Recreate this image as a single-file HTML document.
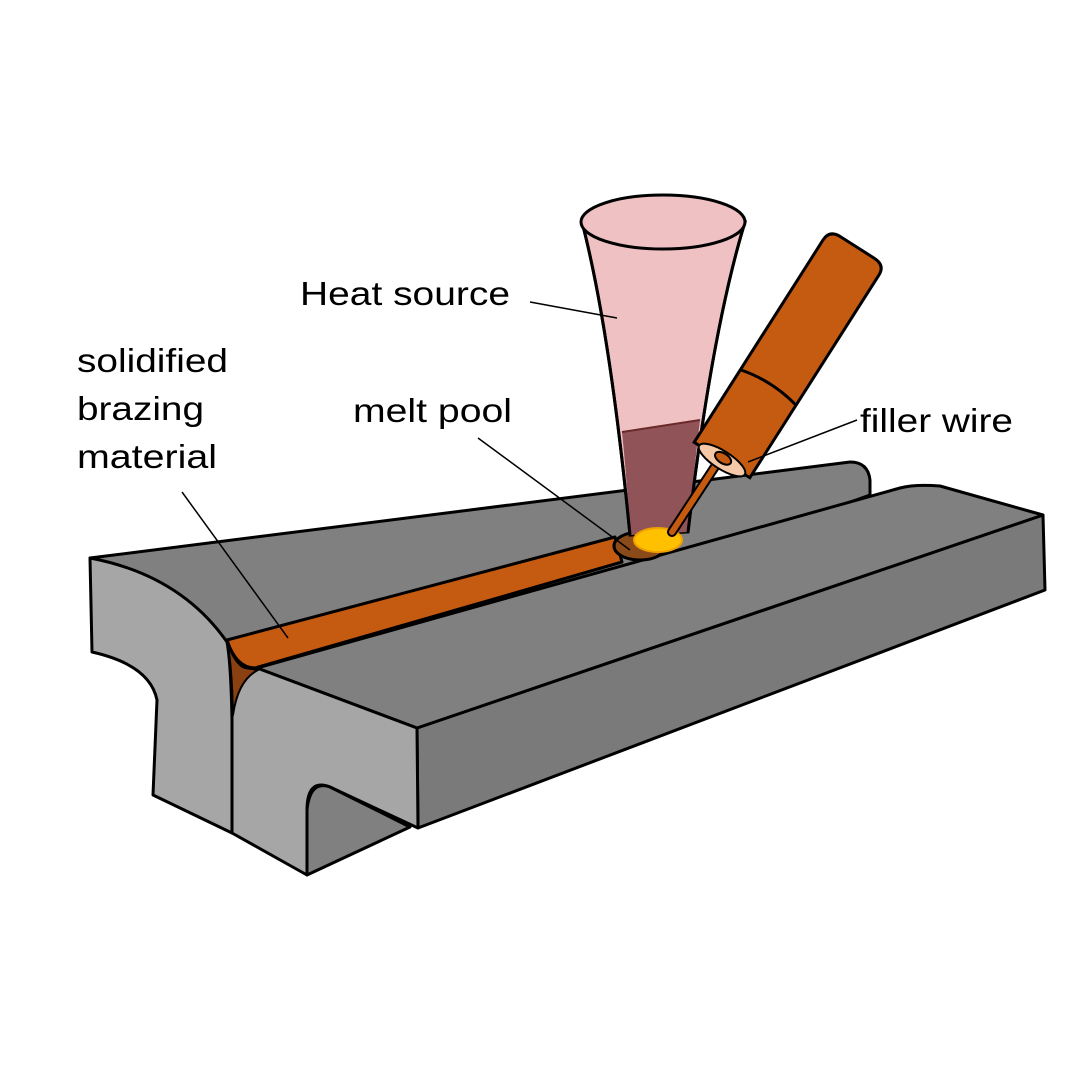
<!DOCTYPE html>
<html><head><style>html,body{margin:0;padding:0;background:#fff}</style></head>
<body>
<svg width="1080" height="1080" viewBox="0 0 1080 1080" xmlns="http://www.w3.org/2000/svg" font-family="Liberation Sans, sans-serif">
<rect width="1080" height="1080" fill="#fff"/>
<g stroke="#000" stroke-width="3" stroke-linejoin="round">
<path d="M90,558 L850,462 Q868,462 870,480 L870,495 L300,700 L227,642 Q180,580 90,558 Z" fill="#808080"/>
<path d="M90,558 Q180,575 227,642 Q234,680 232,833 L153,795 L157,700 Q150,665 92,652 Z" fill="#a6a6a6"/>
<path d="M417,728 L1043,515 L1045,590 L418,828 Z" fill="#7a7a7a"/>
<path d="M257,668 L900,488 Q915,484 940,486 L1043,515 L417,728 Z" fill="#808080"/>
<path d="M232,717 Q235,672 257,668 L417,728 L418,828 L330,787 Q307,778 307,810 L307,875 L232,833 Z" fill="#a6a6a6"/>
<path d="M307,810 Q310,780 330,787 L410,827 L307,875 Z" fill="#808080"/>
<path d="M228,645 Q236,665 245,668 L258,670 Q238,680 233,715 Q232,670 228,645 Z" fill="#8a4010" stroke-width="2"/>
<path d="M227,640 L615,537 L622,562 L255,668 Q236,668 227,640 Z" fill="#c55a11"/>
<ellipse cx="640" cy="546" rx="26" ry="14" fill="#8a4a1a"/>
</g>
<path d="M582,222 Q610,330 630,535 L688,532 Q712,330 745,222 Z" fill="#efc1c3" stroke="#000" stroke-width="3"/>
<path d="M622,432 L700,420 Q694,470 688,532 L630,535 Q627,480 622,432 Z" fill="#8f5358"/>
<path d="M622,432 L700,420" stroke="#6a2a2a" stroke-width="2"/>
<path d="M582,222 Q610,330 630,535 M688,532 Q712,330 745,222" fill="none" stroke="#000" stroke-width="3"/>
<ellipse cx="663" cy="222" rx="82" ry="27" fill="#efc1c3" stroke="#000" stroke-width="3"/>
<ellipse cx="658" cy="540" rx="24" ry="12" fill="#ffc000" stroke="#f0a000" stroke-width="2"/>
<line x1="718" y1="462" x2="672" y2="532" stroke="#000" stroke-width="10" stroke-linecap="round"/>
<line x1="718" y1="462" x2="672" y2="532" stroke="#c55a11" stroke-width="6" stroke-linecap="round"/>
<g transform="translate(722,460) rotate(-57.5)" stroke="#000" stroke-width="3">
<path d="M0,-33 L240,-33 Q252,-33 252,-20 L252,20 Q252,33 240,33 L0,33 Z" fill="#c55a11"/>
<path d="M86,-33 Q94,0 86,33" fill="none"/>
<ellipse cx="0" cy="0" rx="9" ry="27" fill="#f5c8a8" stroke-width="2"/>
<ellipse cx="2" cy="0" rx="5" ry="9" fill="#c55a11" stroke-width="2"/>
</g>
<g stroke="#000" stroke-width="1.5">
<line x1="530" y1="302" x2="617" y2="318"/>
<line x1="182" y1="492" x2="288" y2="638"/>
<line x1="478" y1="438" x2="630" y2="550"/>
<line x1="857" y1="420" x2="748" y2="462"/>
</g>
<g font-size="33" fill="#000" lengthAdjust="spacingAndGlyphs">
<text x="300" y="305" textLength="210" lengthAdjust="spacingAndGlyphs">Heat source</text>
<text x="77" y="372" textLength="151" lengthAdjust="spacingAndGlyphs">solidified</text>
<text x="77" y="420" textLength="127" lengthAdjust="spacingAndGlyphs">brazing</text>
<text x="77" y="468" textLength="140" lengthAdjust="spacingAndGlyphs">material</text>
<text x="353" y="422" textLength="159" lengthAdjust="spacingAndGlyphs">melt pool</text>
<text x="860" y="432" textLength="153" lengthAdjust="spacingAndGlyphs">filler wire</text>
</g>
</svg>
</body></html>
